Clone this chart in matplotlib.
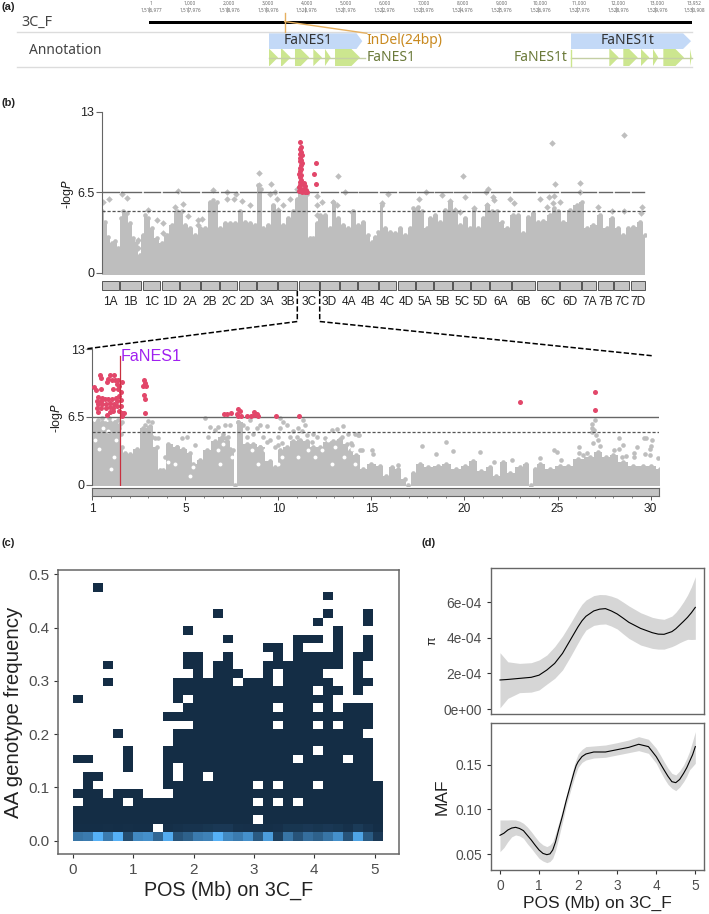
import matplotlib
matplotlib.use("Agg")
import matplotlib.pyplot as plt
from matplotlib.colors import LinearSegmentedColormap
from matplotlib.patches import Rectangle
import numpy as np

W, H = 709, 914
plt.rcParams['font.family'] = ['Liberation Sans', 'DejaVu Sans']

# (a) gene track, positions in bp
scale_ticks = [1, 1000, 2000, 3000, 4000, 5000, 6000, 7000, 8000, 9000, 10000, 11000, 12000, 13000, 13952]
scale_top = ["1", "1,000", "2,000", "3,000", "4,000", "5,000", "6,000", "7,000", "8,000", "9,000", "10,000", "11,000", "12,000", "13,000", "13,952"]
scale_bot = ["1,516,977", "1,517,976", "1,518,976", "1,519,976", "1,520,976", "1,521,976", "1,522,976", "1,523,976",
             "1,524,976", "1,525,976", "1,526,976", "1,527,976", "1,528,976", "1,529,976", "1,530,908"]
indel_pos = 3488
nes1_span = [3086, 5484]
nes1t_span = [10850, 13935]
nes1_exon_start = [3086, 3394, 3754, 4225, 4525, 4783]
nes1_exon_end = [3317, 3644, 4122, 4448, 4672, 5425]
nes1t_exon_start = [11834, 12194, 12649, 12957, 13223, 13908]
nes1t_exon_end = [12076, 12565, 12863, 13094, 13754, 13952]

# (b) genome wide manhattan, x is cumulative position in arbitrary units
chrom_names = ["1A", "1B", "1C", "1D", "2A", "2B", "2C", "2D", "3A", "3B", "3C", "3D", "4A", "4B", "4C", "4D",
               "5A", "5B", "5C", "5D", "6A", "6B", "6C", "6D", "7A", "7B", "7C", "7D"]
chrom_start = [0, 55, 123, 179, 234, 297, 354, 410, 466, 528, 592, 654, 714, 769, 831, 887,
               942, 997, 1054, 1108, 1164, 1231, 1305, 1374, 1440, 1488, 1536, 1586]
chrom_end = [51, 117, 175, 230, 293, 350, 406, 462, 524, 586, 650, 710, 765, 827, 883, 939,
             993, 1050, 1104, 1160, 1226, 1300, 1370, 1436, 1483, 1532, 1582, 1628]
env_x = [0, 9, 19, 29, 39, 49, 56, 64, 74, 84, 94, 104, 114, 122, 129, 139, 149, 164, 179, 194, 209, 224, 239, 249,
         264, 279, 294, 309, 324, 334, 344, 354, 369, 384, 399, 414, 429, 444, 459, 469, 476, 484, 499, 514, 529, 544,
         559, 574, 584, 594, 604, 614, 624, 634, 644, 654, 669, 684, 694, 709, 724, 739, 754, 769, 784, 799,
         809, 819, 829, 839, 849, 864, 879, 894, 909, 924, 934, 949, 959, 974, 984, 999, 1014, 1029, 1044, 1059,
         1074, 1089, 1104, 1116, 1129, 1144, 1156, 1169, 1184, 1199, 1214, 1234, 1249, 1264, 1279, 1294, 1309, 1324,
         1344, 1356, 1369, 1384, 1404, 1424, 1439, 1454, 1474, 1494, 1514, 1529, 1549, 1564, 1579, 1594, 1614, 1629]
env_y = [4.95, 4.1, 2.9, 2.4, 2.6, 2.0, 4.4, 4.95, 4.8, 4.0, 2.8, 2.5, 1.4, 3.05, 4.65, 4.4, 3.6, 2.8, 2.4, 3.05, 3.85, 4.95, 4.95, 3.85,
         3.6, 3.05, 3.6, 3.6, 5.75, 5.9, 5.75, 3.6, 4.0, 4.0, 4.0, 4.95, 4.1, 4.0, 3.85, 7.1, 6.8, 3.6, 3.85, 5.5, 4.95, 3.85,
         4.4, 4.95, 6.0, 6.55, 6.55, 6.4, 2.8, 2.8, 4.0, 4.65, 4.65, 3.6, 5.75, 4.4, 3.85, 3.6, 4.95, 3.85, 4.1, 3.05,
         2.5, 2.9, 3.3, 5.5, 3.6, 3.3, 3.2, 3.6, 3.05, 3.6, 5.2, 5.3, 4.95, 3.6, 4.4, 4.65, 4.1, 5.05, 5.75, 4.95,
         3.85, 4.4, 3.6, 5.05, 3.6, 4.4, 5.5, 4.95, 4.95, 4.1, 3.6, 4.65, 4.65, 3.2, 4.5, 4.8, 4.1, 4.2,
         4.65, 5.2, 4.95, 4.1, 5.05, 5.5, 5.75, 3.6, 3.85, 4.65, 3.6, 4.4, 3.6, 3.05, 3.6, 3.7, 4.1, 3.05]
gray_x = [4, 22, 59, 74, 229, 332, 374, 374, 402, 396, 419, 444, 472, 470, 506, 504, 519, 524, 564, 584, 709, 728, 644, 644, 644,
          659, 692, 704, 107, 107, 139, 164, 182, 182, 244, 219, 259, 289, 299, 289, 544, 529,
          749, 839, 859, 951, 972, 1019, 1084, 1089, 1044, 1060, 1074, 1116, 1152, 1159, 1172, 1177, 1154, 1224, 1237,
          1314, 1342, 1357, 1349, 1359, 1374, 1434, 1434, 1567, 1487, 1529, 1567, 1619, 1617, 1334, 1354]
gray_y = [5.7, 6.0, 6.4, 6.05, 6.6, 6.65, 6.55, 6.0, 6.35, 6.0, 5.8, 5.5, 8.1, 7.1, 7.2, 6.4, 6.5, 6.0, 6.0, 6.8, 7.85, 6.5, 6.2, 5.5, 4.65,
          5.7, 5.75, 5.5, 2.65, 2.0, 5.1, 4.3, 4.0, 3.2, 5.55, 5.35, 4.6, 4.25, 4.35, 3.85, 5.5, 5.05,
          4.9, 5.6, 6.4, 6.0, 6.5, 6.3, 7.85, 6.15, 5.8, 5.05, 4.9, 5.2, 6.5, 6.75, 6.15, 5.9, 5.5, 6.0, 5.6,
          6.0, 6.1, 6.2, 10.5, 7.2, 5.7, 7.25, 6.55, 11.15, 5.35, 4.95, 5.0, 5.35, 4.8, 5.35, 5.6]
red_x = [594, 597, 593, 596, 594, 599, 595, 598, 593, 600, 596, 593, 598, 595, 592, 597, 594, 598, 593, 595, 592, 598, 591, 596,
         603, 607, 610, 606, 613, 603, 609, 616, 600, 643, 635, 643]
red_y = [10.55, 10.2, 10, 9.8, 9.6, 9.5, 9.3, 9.1, 9, 8.9, 8.7, 8.5, 8.4, 8.2, 8, 7.9, 7.7, 7.5, 7.3, 7.1, 6.9, 6.8, 6.6, 6.6,
         7.2, 7.25, 7.0, 6.8, 6.7, 6.6, 6.55, 6.5, 6.5, 8.9, 7.95, 7.2]

# (b) zoom on 3C, x in Mb
zenv_x = [0, .23, .5, .95, 1.22, 1.5, 1.58, 1.76, 2.03, 2.38, 2.74, 3.1, 3.46, 3.64, 3.82, 4.09, 4.53, 4.89, 5.25, 5.43, 5.79, 6.15,
          6.6, 6.95, 7.22, 7.58, 7.67, 7.85, 8.3, 8.66, 9.01, 9.55, 9.82, 10.09, 10.45, 10.81, 11.16, 11.52, 11.88, 12.24,
          12.6, 12.96, 13.32, 13.67, 13.84, 14.19, 14.55, 15, 15.45, 15.8, 16.08, 16.43, 16.79, 16.97, 17.24, 17.6, 18.05,
          18.58, 19.03, 19.57, 20.02, 20.47, 20.91, 21.36, 21.72, 22.08, 22.44, 22.97, 23.33, 23.6, 23.78, 24.05, 24.59,
          25.13, 25.57, 26.11, 26.74, 27.19, 27.63, 27.99, 28.53, 29.07, 29.6, 30.05, 30.5]
zenv_y = [5.9, 6.0, 6.0, 6.0, 6.0, 5.8, 3.6, 3.0, 2.9, 3.4, 5.4, 5.6, 3.6, 1.4, 1.4, 3.9, 3.6, 3.4, 3.0, 2.0, 2.4, 3.3,
          4.2, 4.6, 4.2, 3.3, -.2, 6.0, 3.9, 3.9, 3.6, 2.3, 1.7, 3.3, 3.6, 4.2, 4.3, 4.2, 3.6, 3.6,
          4.1, 4.2, 4.4, 3.9, 3.2, 2.8, 1.5, 2.0, 1.8, .85, 1.65, 1.5, .5, 0, 1.15, 2.0, 1.65,
          1.8, 2.0, 1.5, 1.8, 2.3, 1.35, 1.65, .85, 2.15, 1.15, 1.65, 2.0, -.2, 1.5, 2.0, 1.5,
          1.8, 1.8, 2.5, 2.65, 3.1, 2.65, 2.8, 2.15, 1.8, 1.8, 1.8, 1.5]
zgray_x = [.05, .05, .05, .32, .32, .32, .5, .5, .68, .68, .91, .95, 1.22, 1.22, 1.4, 1.45, 1.58, .14, .14, .41, .59, .8, 1.05, 1.3, 1.52, .77, 1.05, 1.35, .2,
           3.19, 3.01, 2.83, 2.74, 2.92, 3.1, 2.65, 3.19, 3.37, 3.55, 6.06, 4.09, 4.53, 5.07, 4.8, 5.52, 3.91, 6.33, 6.6, 6.24, 6.77, 7.13, 7.01, 7.4, 7.13,
           7.31, 7.4, 7.22, 7.85, 7.9, 7.9, 8.12, 8.3, 8.48, 8.66, 8.84, 9.01, 8.3, 8.66, 9.01, 9.41, 9.19, 9.55, 9.37, 9.82, 10.0, 10.18, 10.09, 10.27, 10.09,
           10.0, 10.45, 10.81, 10.63, 11.34, 11.43, 11.08, 11.25, 10.99, 11.52, 11.88, 12.06, 11.79, 12.51, 12.87, 13.14, 13.49, 13.41, 13.76, 14.3, 13.94,
           14.48, 13.14, 12.78, 14.1, 14.32, 13.92, 13.92, 14.41, 15.04, 15.09, 17.74, 18.46, 19.0, 19.37, 20.82, 22.58, 21.61, 16.43, 24.05, 24.82, 24.98,
           25.21, 26.13, 26.13, 26.38, 26.58, 27.01, 26.88, 26.85, 26.97, 26.85, 27.06, 26.92, 27.19, 27.31, 28.32, 28.53, 28.32, 28.05, 29.25, 29.66, 29.78,
           30.07, 30.05, 29.96, 29.68, 29.96, 29.09, 29.09, 30.41, 28.67, 28.44]
zgray_y = [5.75, 4.9, 3.8, 6.2, 5.4, 4.6, 6.4, 5.55, 5.1, 5.9, 6.4, 4.6, 6.05, 5.25, 6.2, 5.4, 6.05, 5.2, 4.4, 5.0, 4.9, 5.5, 5.6, 4.8, 4.9, 4.3, 4.2, 4.2, 3.7,
           6.05, 6.1, 5.75, 5.25, 5.1, 5.4, 4.75, 4.6, 4.45, 4.45, 6.4, 3.45, 3.6, 4.6, 4.45, 3.8, 2.65, 5.55, 5.25, 4.6, 5.55, 5.75, 4.9, 5.75, 4.45,
           4.6, 3.45, 2.95, 6.05, 4.75, 3.8, 5.75, 5.4, 6.2, 4.9, 5.4, 5.75, 4.6, 3.8, 3.6, 5.65, 4.6, 4.25, 4.1, 3.6, 3.8, 3.95, 6.4, 6.05, 5.4,
           4.6, 5.75, 5.1, 4.6, 6.2, 5.75, 5.4, 5.1, 4.6, 4.75, 4.9, 4.6, 4.1, 4.45, 5.25, 5.35, 5.65, 4.6, 4.9, 4.8, 3.8,
           3.3, 4.1, 3.8, 4.9, 4.8, 3.95, 3.3, 3.3, 3.3, 2.95, 3.7, 2.95, 4.05, 3.25, 3.15, 2.4, 2.2, 1.9, 2.55, 3.3, 3.15,
           2.35, 3.6, 3.05, 2.85, 3.05, 6.15, 5.8, 5.45, 5.2, 5.0, 4.75, 4.0, 4.25, 3.7, 4.5, 3.8, 3.45, 3.3, 3.65, 4.5, 4.45,
           4.25, 3.7, 3.45, 2.95, 2.8, 3.05, 2.65, 2.55, 2.75, 2.65]
# empty spots inside the dense part of the cloud
zhole_x = [.15, .38, 1.17, .86, 1.3, .6, .99, 4.07, 4.43, 5.27, 5.41, 6.77, 6.87, 7.04, 7.49, 8.57, 8.93, 9.29, 10.0, 10.18,
           11.07, 11.61, 11.97, 12.33, 12.69, 12.87, 13.05, 13.5, 13.95, 14.12]
zhole_y = [4.27, 3.4, 2.64, 5.1, 4.27, 5.4, 1.5, 2.15, 1.98, .85, 1.67, 3.29, 1.98, 3.94, 2.64, 3.29, 1.98, 3.29, 1.98, 2.64,
           2.64, 3.29, 2.64, 3.29, 4.27, 1.98, 3.62, 2.64, 3.45, 1.98]
zred_x = [.41, .45, .95, 1.16, .86, 1.04, .81, 1.22, 1.4, 1.58, 1.31, 1.45, 1.13, 1.4, .09, .18, .45,
          .32, .5, .23, .45, .68, .86, 1.04, 1.27, 1.45, 1.52, .32, .5, .73, .95, 1.16, 1.34, 1.52, .23, .45, .73, .95, 1.13, 1.34, 1.52,
          .32, .77, .95, 1.13, 1.45, 1.58, 1.72, 1.58,
          2.78, 2.83, 2.74, 2.87, 2.78, 2.83, 2.83,
          7.08, 7.26, 7.47, 7.85, 7.94, 7.8, 7.85, 7.97, 8.33, 8.51, 8.69, 8.69, 8.84, 8.91, 9.86, 11.13, 22.97, 27.04, 27.0]
zred_y = [10.5, 10.25, 10.55, 10.55, 10.15, 10.05, 9.85, 10.05, 10, 9.85, 9.65, 9.5, 9.15, 9.15, 9.4, 9.05, 9.2,
          8.4, 8.35, 8.0, 8.0, 8.2, 8.25, 8.2, 8.35, 8.5, 8.9, 7.7, 7.7, 7.75, 7.85, 7.75, 8.0, 8.1, 7.3, 7.3, 7.35, 7.45, 7.3, 7.5, 7.5,
          6.95, 6.65, 7, 7.05, 7.05, 6.85, 6.85, 6.55,
          10, 9.7, 9.5, 9.5, 8.6, 8.25, 6.85,
          6.8, 6.8, 6.85, 7.25, 7.05, 6.8, 6.55, 6.55, 6.6, 6.6, 7, 6.65, 6.8, 6.6, 6.6, 6.6, 7.9, 8.9, 7.2]

# (c) 2d histogram: filled rows per column, row 0 is the lowest
col_rows = ["0-3,5,9,16", "0-7,9", "0-5,7,29", "0-4,18,20", "0-5,12", "0-3,5,8-10", "0-5", "0-4", "0,2-4", "0-4,6-10,14",
            "0-6,9-12,14,16-18", "0-12,14-15,17-18,20-21,24", "0-21", "0-6,8-18", "0-20,26", "0-21,23", "0-17,19", "0-18",
            "0-1,3,5,7-18", "0-20,22", "0-3,5,7-12,14,16-17,20-22", "0-20", "0-3,5-8,10-23", "0-21,23",
            "0-5,7-9,11-12,14,16,18-21,23,25", "0-18,20-21,26,28", "0-12,14,17,20-24", "0-8,10-15", "0-15,17-21",
            "0-11,13-15,18,21-23,25-26", "0-6"]
row0_level = [.55, .6, 1.0, .6, 1.0, .25, .7, .75, .45, .95, .3, .4, .6, .65, 1.0, .7, .6, .75, .35, .85, .15, .55, .3, .5, .4, .55, .75, .3, .9, .35, .1]
row1_level = [.02, .02, .02, .03, .02, .03, .02, .02, 0, .03, .05, .06, .06, .08, .1, .1, .05, .04, .05, .03, .04, .08, .08, .1, .08, .1, .08, .05, .12, .06, .02]
bin_w = 0.1657
bin_h = 0.0161

# (d) smoothed curves
pi_x = [0, .2, .5, .8, 1.0, 1.2, 1.4, 1.6, 1.8, 2.0, 2.1, 2.2, 2.4, 2.55, 2.7, 2.85, 3.0, 3.15, 3.3, 3.6, 3.9, 4.05, 4.2, 4.4, 4.5, 4.6, 4.7, 4.8, 4.9, 5.0]
pi_mid = [1.63, 1.66, 1.72, 1.78, 1.9, 2.19, 2.56, 3.12, 3.87, 4.62, 4.95, 5.2, 5.5, 5.6, 5.63, 5.5, 5.33, 5.1, 4.86, 4.52, 4.28, 4.2, 4.19, 4.34, 4.5, 4.71, 4.92, 5.14, 5.4, 5.7]
pi_up = [3.16, 2.65, 2.56, 2.6, 2.75, 3.03, 3.5, 4.09, 4.8, 5.55, 5.88, 6.11, 6.36, 6.42, 6.41, 6.33, 6.21, 6.0, 5.78, 5.4, 5.14, 5.07, 5.03, 5.21, 5.42, 5.7, 6.02, 6.39, 6.85, 7.42]
pi_lo = [.07, .6, .92, .95, 1.07, 1.4, 1.72, 2.19, 2.93, 3.72, 4.1, 4.43, 4.69, 4.75, 4.77, 4.65, 4.49, 4.22, 3.96, 3.59, 3.4, 3.36, 3.36, 3.5, 3.6, 3.72, 3.82, 3.91, 3.9, 3.91]
maf_x = [0, .1, .2, .3, .4, .5, .6, .7, .8, .9, 1.0, 1.1, 1.2, 1.28, 1.35, 1.42, 1.5, 1.6, 1.7, 1.8, 1.9, 1.95, 2.0, 2.1, 2.2, 2.4, 2.7, 3.0, 3.3, 3.55, 3.8, 4.0, 4.1, 4.2, 4.3, 4.4, 4.5, 4.6, 4.7, 4.78, 4.85, 4.93, 5.0]
maf_mid = [.0712, .0735, .0771, .0793, .0801, .0788, .0764, .0712, .066, .0602, .0548, .051, .0496, .0505, .0548, .0635, .0771, .093, .1106, .1265, .1422, .149, .1533, .159, .1619, .1641, .1641, .1667, .1693, .1727, .1701, .1589, .1515, .1441, .137, .131, .1299, .1335, .1403, .1465, .1533, .161, .1701]
maf_up = [.0883, .0883, .0883, .0885, .0883, .087, .0846, .0805, .0753, .0695, .0641, .0605, .0586, .0605, .0641, .073, .0846, .1, .1162, .133, .1496, .156, .1619, .167, .1701, .1708, .1719, .1745, .1775, .1812, .1783, .1682, .161, .1533, .146, .1403, .1385, .143, .1496, .157, .1645, .176, .1868]
maf_lo = [.053, .0575, .0641, .0695, .0716, .0705, .0678, .0618, .0567, .051, .0455, .0425, .0407, .042, .0455, .054, .0678, .086, .105, .12, .1348, .141, .147, .1525, .1552, .1574, .1582, .1608, .1634, .1656, .1626, .1515, .143, .1348, .128, .1236, .121, .125, .131, .137, .1441, .148, .1515]

GRAY = "#bebebe"
RED = "#e2476a"
TICK = "#4d4d4d"


def ax_px(x0, y0, x1, y1):
    return fig.add_axes([x0 / W, 1 - y1 / H, (x1 - x0) / W, (y1 - y0) / H])


fig = plt.figure(figsize=(W / 100, H / 100), dpi=100)

# overlay in pixels for panel letters and the zoom lines
over = ax_px(0, 0, W, H)
over.set_xlim(0, W)
over.set_ylim(H, 0)
over.axis("off")
over.set_zorder(5)
for txt, x, y in [("(a)", 2, 7), ("(b)", 2, 103), ("(c)", 2, 543), ("(d)", 422, 543)]:
    over.text(x, y, txt, fontsize=8, fontweight="bold", va="center", color="#222222")
over.plot([297.3, 297.3, 85], [291, 321.5, 349], color="k", lw=1.1, ls=(0, (3.5, 1.5)))
over.plot([319.7, 319.7, 651.7], [291, 321.5, 355.7], color="k", lw=1.1, ls=(0, (3.5, 1.5)))

# panel a
px_per_bp = (691.7 - 149) / 13951
a = ax_px(0, 0, W, 75)
a.set_xlim(1 - 149 / px_per_bp, 1 + (W - 149) / px_per_bp)
a.set_ylim(75, 0)
a.axis("off")
sans = ['Noto Sans', 'DejaVu Sans']


def arrow(ax, start, end, y0, y1, tip, color):
    tip = min(tip, end - start)
    ym = (y0 + y1) / 2
    ax.fill([start, end - tip, end, end - tip, start], [y0, y0, ym, y1, y1], color=color, lw=0)


for bp, t1, t2 in zip(scale_ticks, scale_top, scale_bot):
    a.text(bp + 60, 3.7, t1, fontsize=3.4, ha="center", va="center", color="#666666", family=sans)
    a.text(bp + 60, 9.8, t2, fontsize=3.4, ha="center", va="center", color="#666666", family=sans)
    a.plot([bp, bp], [7, 12], color="#777777", lw=0.4)
a.add_patch(Rectangle((1, 20.7), 13951, 3.3, color="k", lw=0))
x_left = a.get_xlim()[0] + 17 / px_per_bp
a.plot([x_left, 13952], [31.7, 31.7], color="#dcdcdc", lw=1)
a.plot([x_left, 13952], [67.3, 67.3], color="#dcdcdc", lw=1)
a.text(a.get_xlim()[0] + 21 / px_per_bp, 22.3, "3C_F", fontsize=10.3, va="center", color="#444444", family=sans)
a.text(a.get_xlim()[0] + 29.3 / px_per_bp, 50, "Annotation", fontsize=10, va="center", color="#444444", family=sans)
arrow(a, nes1_span[0], nes1_span[1], 33.3, 49, 150, "#c3d9f7")
arrow(a, nes1t_span[0], nes1t_span[1], 33.3, 49, 205, "#c3d9f7")
a.text(4090, 41, "FaNES1", fontsize=10, ha="center", va="center", color="#333333", family=sans)
a.text(12300, 41, "FaNES1t", fontsize=10, ha="center", va="center", color="#333333", family=sans)
a.plot([nes1_span[0], 5550], [57.5, 57.5], color="#c4cfa4", lw=1)
a.plot([nes1t_span[0], 13952], [57.5, 57.5], color="#c4cfa4", lw=1)
a.plot([nes1t_span[0], nes1t_span[0]], [50, 66], color="#cce68f", lw=1)
for s, e in list(zip(nes1_exon_start, nes1_exon_end)) + list(zip(nes1t_exon_start, nes1t_exon_end)):
    arrow(a, s, e, 49, 66, 220, "#cce68f")
a.plot([indel_pos, indel_pos], [13, 31.7], color="#e6b060", lw=1)
a.plot([indel_pos, 5600], [21.5, 33.3], color="#e6b060", lw=1)
a.text(5600, 40.7, "InDel(24bp)", fontsize=10, va="center", color="#c98a20", family=sans)
a.text(5600, 57.3, "FaNES1", fontsize=10, va="center", color="#6b7a3a", family=sans)
a.text(10760, 57.3, "FaNES1t", fontsize=10, va="center", ha="right", color="#6b7a3a", family=sans)

# panel b, genome
ax = ax_px(102, 112, 646, 275)
ax.set_xlim(0, 1632)
ax.set_ylim(-0.19, 13)
ax.fill_between(env_x, -0.19, env_y, color=GRAY, lw=0, step="mid")
ax.scatter(env_x, env_y, s=11, color=GRAY, lw=0)
ax.scatter(gray_x, gray_y, s=11, color=GRAY, marker="D", lw=0)
for s, e in zip(chrom_start, chrom_end):
    ax.plot([s + 3, e - 1], [6.5, 6.5], color="#666666", lw=1, zorder=3)
ax.plot([0, 1628], [5, 5], color="#555555", lw=0.9, ls=(0, (2.5, 1.5)), zorder=3)
ax.scatter(red_x, red_y, s=13, color=RED, lw=0, zorder=4)
ax.set_yticks([0, 6.5, 13])
ax.set_yticklabels(["0", "6.5", "13"], fontsize=9, color="#222222")
ax.set_xticks([])
ax.set_ylabel(r"-log$\mathit{P}$", fontsize=9, labelpad=1, color="#222222")
for s in ["top", "right", "bottom"]:
    ax.spines[s].set_visible(False)
ax.spines["left"].set_bounds(0, 13)
ax.spines["left"].set_color("#666666")
ax.tick_params(axis="y", length=4, width=0.8, color="#666666", pad=1.5)

strip = ax_px(102, 281, 646, 289.7)
strip.set_xlim(0, 1632)
strip.set_ylim(0, 1)
strip.axis("off")
for name, s, e in zip(chrom_names, chrom_start, chrom_end):
    strip.add_patch(Rectangle((s, 0), e - s, 1, facecolor="#c4c4c4", edgecolor="#555555", lw=0.7, clip_on=False))
    strip.text((s + e) / 2, -1.45, name, fontsize=8.6, ha="center", va="center", color="#222222")

# panel b, 3C zoom
z = ax_px(92.3, 349, 659.3, 486)
z.set_xlim(0, 30.47)
z.set_ylim(-0.13, 13)
z.fill_between(zenv_x, -0.13, zenv_y, color=GRAY, lw=0, step="mid")
z.scatter(zenv_x, np.clip(zenv_y, 0, None), s=11, color=GRAY, lw=0)
z.scatter(zgray_x, zgray_y, s=11, color=GRAY, lw=0)
z.scatter(zhole_x, zhole_y, s=8, color="white", lw=0, zorder=2.5)
z.plot([0, 30.47], [6.5, 6.5], color="#666666", lw=1, zorder=3)
z.plot([0, 30.47], [5, 5], color="#555555", lw=0.9, ls=(0, (2.5, 1.5)), zorder=3)
z.scatter(zred_x, zred_y, s=13, color=RED, lw=0, zorder=4)
z.plot([1.5, 1.5], [0, 12.3], color="#c8303f", lw=0.9, zorder=5)
z.text(1.53, 12.3, "FaNES1", fontsize=11.6, color="#a020f0", va="center")
z.set_yticks([0, 6.5, 13])
z.set_yticklabels(["0", "6.5", "13"], fontsize=9, color="#222222")
z.set_xticks([])
z.set_ylabel(r"-log$\mathit{P}$", fontsize=9, labelpad=2, color="#222222")
for s in ["top", "right", "bottom"]:
    z.spines[s].set_visible(False)
z.spines["left"].set_bounds(0, 13)
z.spines["left"].set_color("#666666")
z.tick_params(axis="y", length=4, width=0.8, color="#666666", pad=1.5)

zb = ax_px(92.3, 488.3, 659.3, 495.7)
zb.set_xlim(0, 30.47)
zb.set_ylim(0, 1)
zb.set_facecolor("#c4c4c4")
zb.set_yticks([])
zb.set_xticks([0, 5, 10, 15, 20, 25, 30])
zb.set_xticklabels(["1", "5", "10", "15", "20", "25", "30"], fontsize=8.6, color="#222222")
zb.set_xticks(np.arange(0, 31), minor=True)
zb.tick_params(axis="x", length=3, width=0.7, color="#555555", pad=2)
zb.tick_params(axis="x", which="minor", length=1.5, width=0.5, color="#555555")
for s in zb.spines.values():
    s.set_color("#666666")
    s.set_linewidth(0.8)

# panel c
grid = np.full((31, 31), np.nan)
for c, spec in enumerate(col_rows):
    for part in spec.split(","):
        lo, _, hi = part.partition("-")
        grid[int(lo):int(hi or lo) + 1, c] = 0.015
grid[0] = row0_level
grid[1] = np.where(np.isnan(grid[1]), np.nan, row1_level)
cmap = LinearSegmentedColormap.from_list("gg", ["#132B43", "#56B1F7"])
c = ax_px(58.3, 570, 398.7, 854)
c.pcolormesh(np.arange(32) * bin_w, np.arange(32) * bin_h, np.ma.masked_invalid(grid), cmap=cmap, vmin=0, vmax=1)
c.set_xlim(-.244, 5.4)
c.set_ylim(-.025, .508)
c.set_xticks([0, 1, 2, 3, 4, 5])
c.set_yticks([0, .1, .2, .3, .4, .5])
c.set_yticklabels(["0.0", "0.1", "0.2", "0.3", "0.4", "0.5"])
c.tick_params(labelsize=11, labelcolor=TICK, color="#333333", length=3, width=0.8)
c.set_xlabel("POS (Mb) on 3C_F", fontsize=14.2, color="#222222", labelpad=3)
c.set_ylabel("AA genotype frequency", fontsize=14.7, color="#222222", labelpad=4)
for s in c.spines.values():
    s.set_color("#666666")
    s.set_linewidth(1.1)

# panel d
d1 = ax_px(491, 568.3, 704.3, 713.7)
d1.fill_between(pi_x, np.array(pi_lo) * 1e-4, np.array(pi_up) * 1e-4, color="#d6d6d6", lw=0)
d1.plot(pi_x, np.array(pi_mid) * 1e-4, color="k", lw=0.8)
d1.set_xlim(-.23, 5.23)
d1.set_ylim(-.26e-4, 7.89e-4)
d1.set_xticks([])
d1.set_yticks([0, 2e-4, 4e-4, 6e-4])
d1.set_yticklabels(["0e+00", "2e-04", "4e-04", "6e-04"])
d1.set_ylabel("π", fontsize=9, color="#222222", labelpad=4)

d2 = ax_px(491, 723.3, 704.3, 870)
d2.fill_between(maf_x, maf_lo, maf_up, color="#d6d6d6", lw=0)
d2.plot(maf_x, maf_mid, color="k", lw=0.8)
d2.set_xlim(-.23, 5.23)
d2.set_ylim(.0325, .1961)
d2.set_xticks([0, 1, 2, 3, 4, 5])
d2.set_yticks([.05, .10, .15])
d2.set_yticklabels(["0.05", "0.10", "0.15"])
d2.set_xlabel("POS (Mb) on 3C_F", fontsize=12.5, color="#222222", labelpad=2)
d2.set_ylabel("MAF", fontsize=12.5, color="#222222", labelpad=4)
for ad in [d1, d2]:
    ad.tick_params(labelsize=9.9, labelcolor=TICK, color="#333333", length=3, width=0.8)
    for s in ad.spines.values():
        s.set_color("#666666")
        s.set_linewidth(1)

fig.savefig("out.png", dpi=100)
